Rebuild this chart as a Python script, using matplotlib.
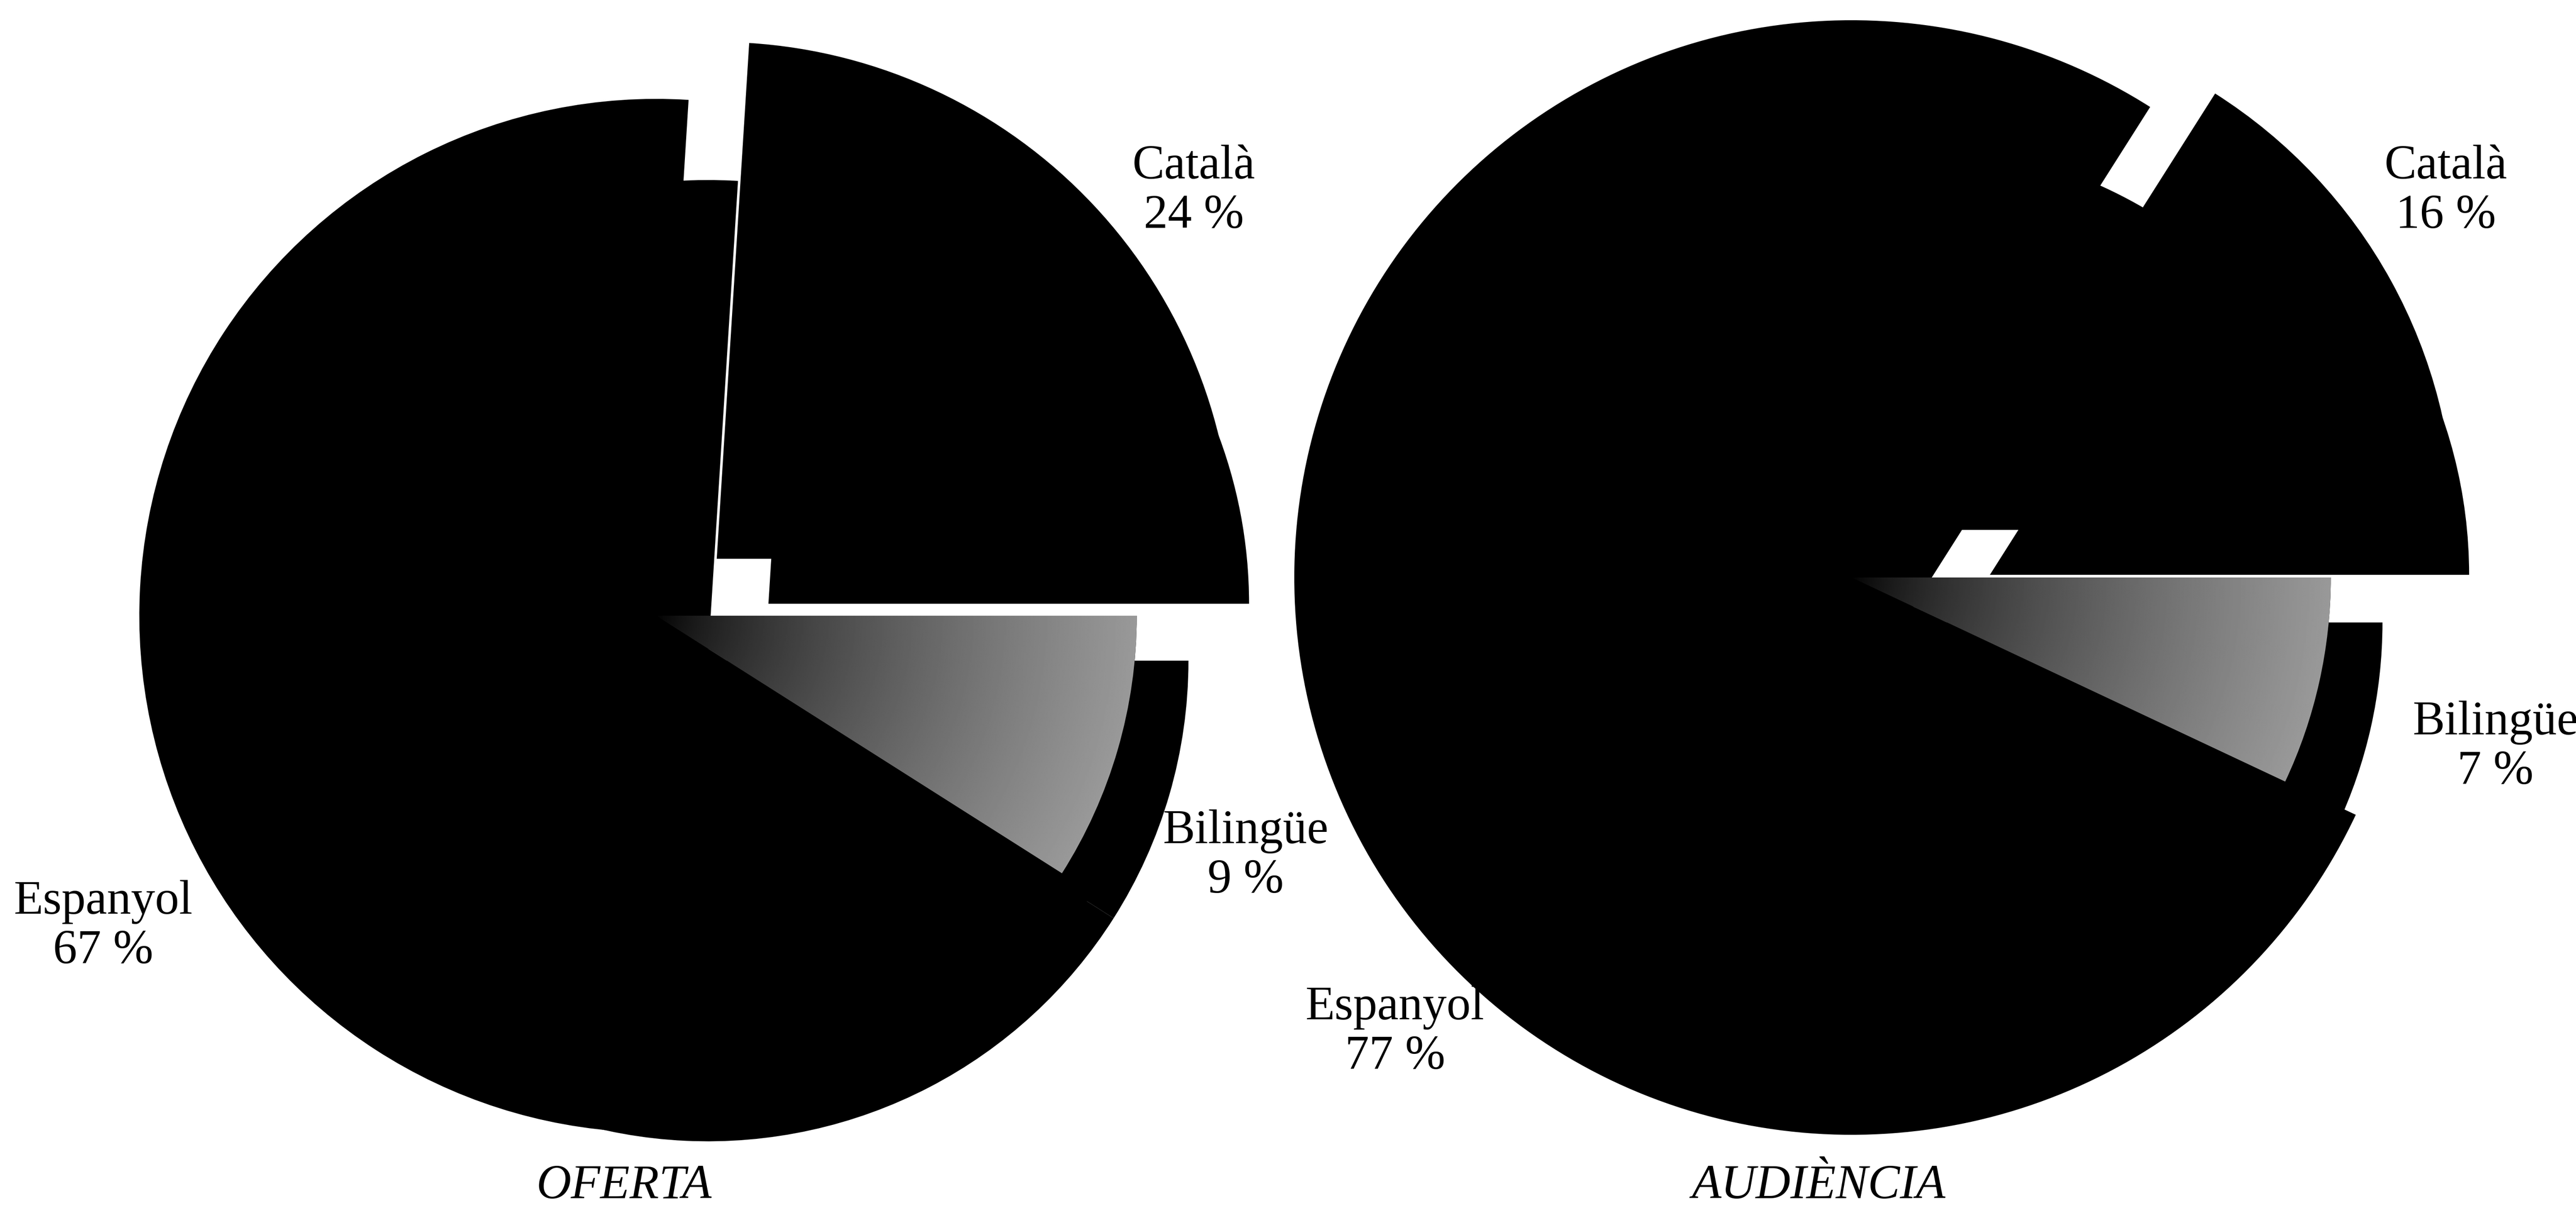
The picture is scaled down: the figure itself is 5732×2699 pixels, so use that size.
import matplotlib.pyplot as plt
import numpy as np

# data
labels = ["Català", "Bilingüe", "Espanyol"]
oferta = [24, 9, 67]
audiencia = [16, 7, 77]
titles = ["OFERTA", "AUDIÈNCIA"]

plt.rcParams['font.family'] = ['Liberation Serif', 'DejaVu Serif']

W, H = 5732, 2699
fig = plt.figure(figsize=(W / 100, H / 100), dpi=100)
ax = fig.add_axes([0, 0, 1, 1])

# layout in pixels, y measured upward from the bottom edge
pies = [
    dict(vals=oferta, title=titles[0], c=(1460, H - 1370), r=1150, rb=0.93, rc=1150,
         expl=185, lab=[(2656, 2273), (2772, 794), (230, 637)], tpos=(1389, 59)),
    dict(vals=audiencia, title=titles[1], c=(4120, H - 1285), r=1240, rb=0.86, rc=1150,
         expl=220, lab=[(5442, 2273), (5553, 1036), (3104, 402)], tpos=(4047, 59)),
]
shadow = (115, -100)

for p in pies:
    start = 360 * p["vals"][0] / 100
    explode = [p["expl"], 0, 0]
    cx, cy = p["c"]
    rb = p["r"] * p["rb"]

    # black drop shadow behind the pie
    ax.pie(p["vals"], explode=explode, startangle=start, counterclock=False,
           radius=rb, center=(cx + shadow[0], cy + shadow[1]),
           colors=["black"] * 3, wedgeprops=dict(linewidth=0), frame=True)

    wedges, _ = ax.pie(p["vals"], explode=explode, startangle=start, counterclock=False,
                       radius=p["r"], center=(cx, cy), colors=["black"] * 3,
                       wedgeprops=dict(linewidth=0), frame=True)
    wedges[0].set_radius(p["rc"])
    wedges[1].set_radius(rb)
    for w in wedges:
        w.set_zorder(3)

    # stippled look of the Bilingüe slice: dark at the centre, lighter outwards
    gx = np.linspace(cx, cx + rb, 400)
    gy = np.linspace(cy - rb, cy, 400)
    X, Y = np.meshgrid(gx, gy)
    shade = np.clip(np.hypot(X - cx, Y - cy) / rb, 0, 1) ** 0.7 * 0.6
    im = ax.imshow(shade, extent=[cx, cx + rb, cy - rb, cy], origin="lower",
                   cmap="gray", vmin=0, vmax=1, zorder=4, interpolation="bilinear")
    im.set_clip_path(wedges[1])

    for name, v, (lx, ly) in zip(labels, p["vals"], p["lab"]):
        ax.text(lx, ly, f"{name}\n{v} %", ha="center", va="center",
                fontsize=77, linespacing=1.15, zorder=5)
    ax.text(p["tpos"][0], p["tpos"][1], p["title"], ha="center", va="center",
            fontsize=77, style="italic", zorder=5)

ax.set_xlim(0, W)
ax.set_ylim(0, H)
ax.set_aspect("equal")
ax.axis("off")

fig.savefig("out.png", dpi=100, facecolor="white")
